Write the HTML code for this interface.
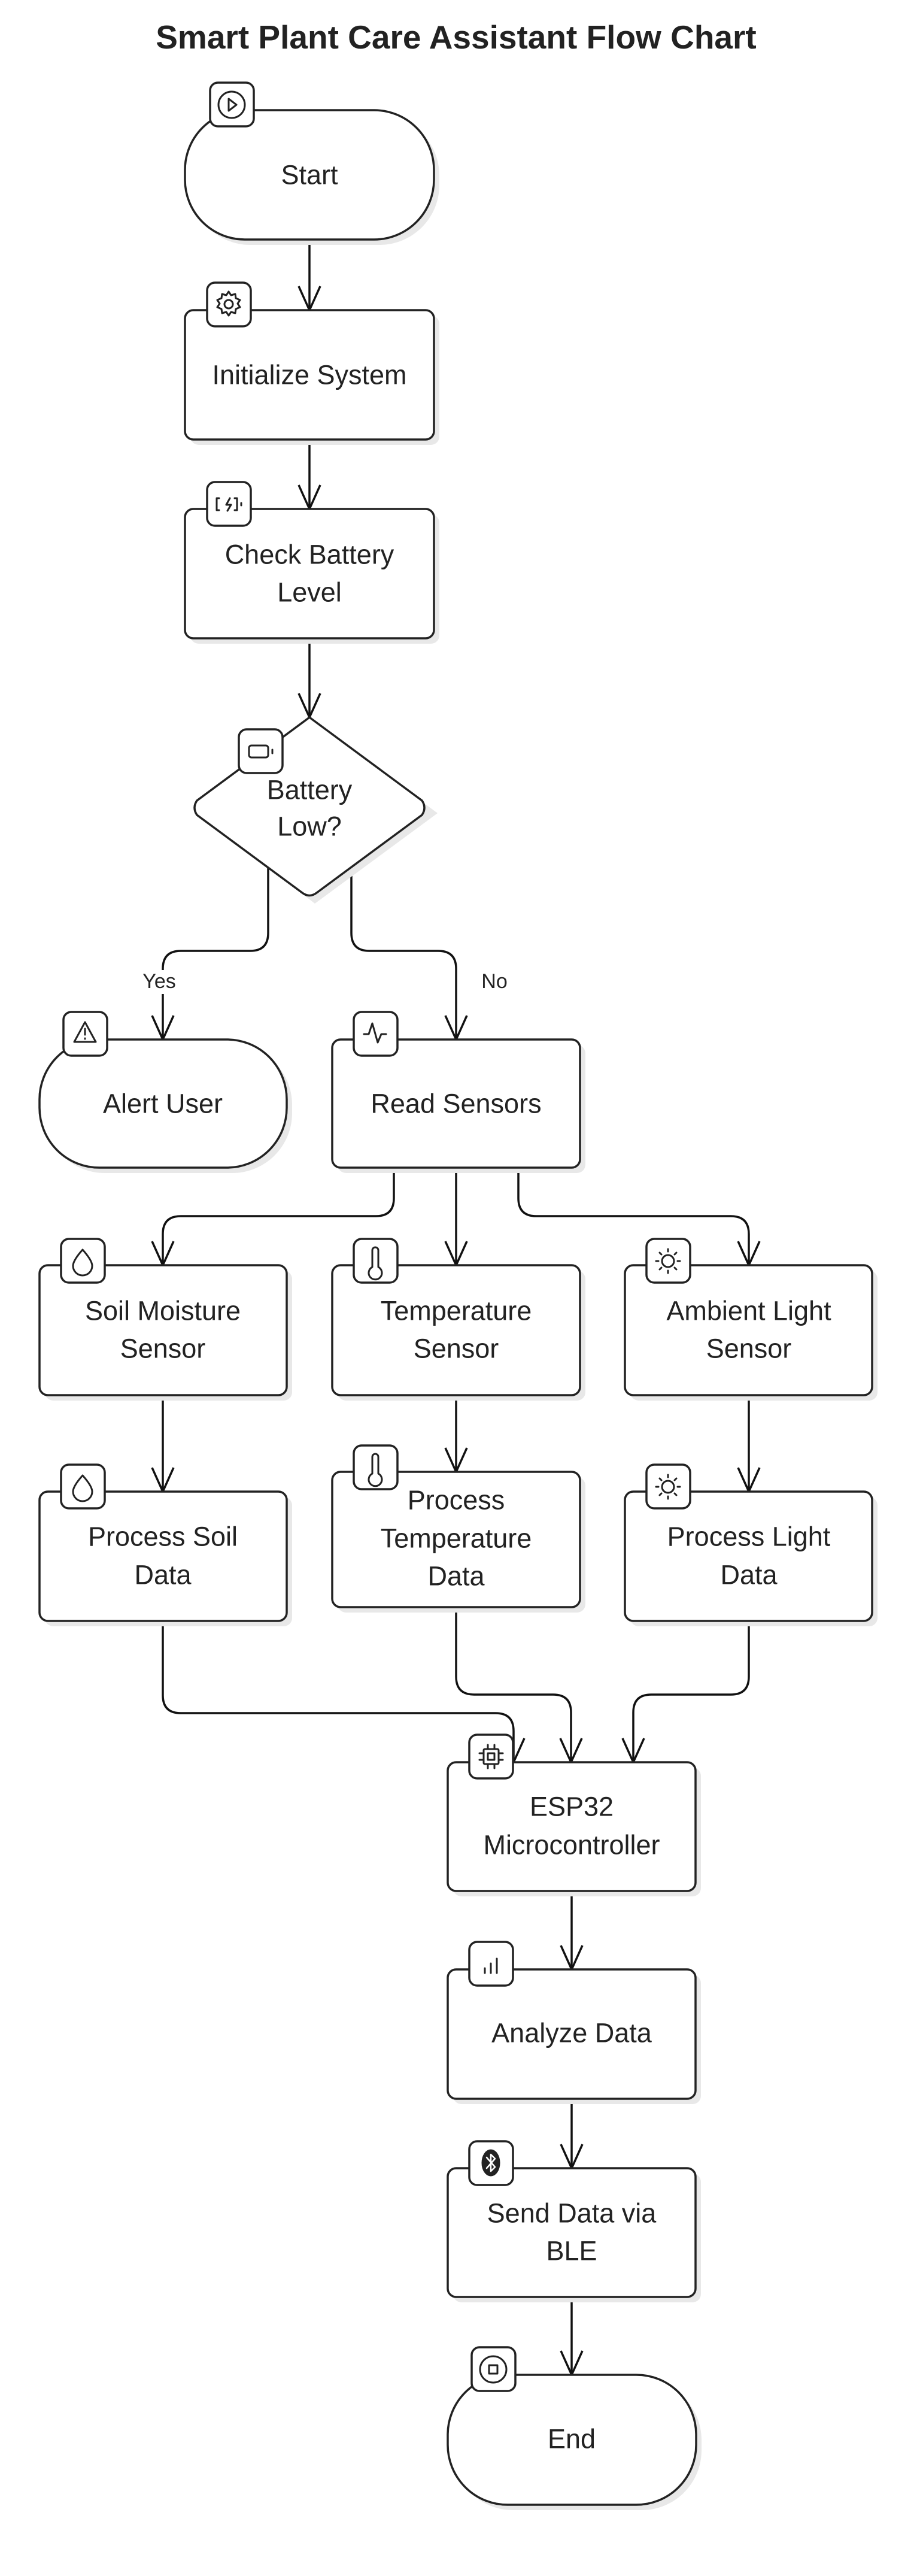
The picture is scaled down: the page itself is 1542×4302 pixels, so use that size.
<!DOCTYPE html>
<html><head><meta charset="utf-8"><style>
html,body{margin:0;padding:0;background:#fff;}
svg{display:block;}
text{font-family:"Liberation Sans",sans-serif;fill:#222;}
.n{font-size:45px;text-anchor:middle;dominant-baseline:central;}
.b{fill:#fff;stroke:#222;stroke-width:3.5;}
.s{fill:#e8e8e8;stroke:none;}
.l{fill:none;stroke:#111;stroke-width:3.5;}
.i{fill:none;stroke:#222;stroke-width:3;stroke-linecap:round;stroke-linejoin:round;}
</style></head><body>
<svg width="1542" height="4302" viewBox="0 0 1542 4302" xmlns="http://www.w3.org/2000/svg">
<text x="762" y="62" style="font-size:55px;font-weight:bold;text-anchor:middle;dominant-baseline:central;">Smart Plant Care Assistant Flow Chart</text>

<g class="l">
<path d="M517 400 V518"/>
<path d="M517 734 V850"/>
<path d="M517 1066 V1198"/>
<path d="M448 1447 V1558 Q448 1588 418 1588 H302 Q272 1588 272 1618 V1620 M272 1660 V1736"/>
<path d="M587 1447 V1558 Q587 1588 617 1588 H732 Q762 1588 762 1618 V1736"/>
<path d="M658 1950 V2001 Q658 2031 628 2031 H302 Q272 2031 272 2061 V2113"/>
<path d="M762 1950 V2113"/>
<path d="M866 1950 V2001 Q866 2031 896 2031 H1221 Q1251 2031 1251 2061 V2113"/>
<path d="M272 2330 V2491"/>
<path d="M762 2330 V2458"/>
<path d="M1251 2330 V2491"/>
<path d="M272 2707 V2831 Q272 2861 302 2861 H828 Q858 2861 858 2891 V2943"/>
<path d="M762 2684 V2800 Q762 2830 792 2830 H924 Q954 2830 954 2860 V2943"/>
<path d="M1251 2707 V2800 Q1251 2830 1221 2830 H1088 Q1058 2830 1058 2860 V2943"/>
<path d="M955 3158 V3289"/>
<path d="M955 3505 V3621"/>
<path d="M955 3836 V3966"/>
</g>
<g class="l">
<path d="M499 478 L517 518 L535 478"/>
<path d="M499 810 L517 850 L535 810"/>
<path d="M499 1158 L517 1198 L535 1158"/>
<path d="M254 1696 L272 1736 L290 1696"/>
<path d="M744 1696 L762 1736 L780 1696"/>
<path d="M254 2073 L272 2113 L290 2073"/>
<path d="M744 2073 L762 2113 L780 2073"/>
<path d="M1233 2073 L1251 2113 L1269 2073"/>
<path d="M254 2451 L272 2491 L290 2451"/>
<path d="M744 2418 L762 2458 L780 2418"/>
<path d="M1233 2451 L1251 2491 L1269 2451"/>
<path d="M840 2903 L858 2943 L876 2903"/>
<path d="M936 2903 L954 2943 L972 2903"/>
<path d="M1040 2903 L1058 2943 L1076 2903"/>
<path d="M937 3249 L955 3289 L973 3249"/>
<path d="M937 3581 L955 3621 L973 3581"/>
<path d="M937 3926 L955 3966 L973 3926"/>
</g>
<text x="266" y="1639" style="font-size:34px;text-anchor:middle;dominant-baseline:central;">Yes</text>
<text x="826" y="1639" style="font-size:34px;text-anchor:middle;dominant-baseline:central;">No</text>

<g class="s">
<rect x="318" y="193" width="416" height="216" rx="100"/>
<rect x="318" y="527" width="416" height="216" rx="14"/>
<rect x="318" y="859" width="416" height="216" rx="14"/>
<path d="M526 1207 L731 1358 L526 1509 L331 1358 Z"/>
<rect x="75" y="1745" width="413" height="214" rx="100"/>
<rect x="564" y="1745" width="414" height="214" rx="14"/>
<rect x="75" y="2122" width="413" height="217" rx="14"/>
<rect x="564" y="2122" width="414" height="217" rx="14"/>
<rect x="1053" y="2122" width="413" height="217" rx="14"/>
<rect x="75" y="2500" width="413" height="216" rx="14"/>
<rect x="564" y="2467" width="414" height="226" rx="14"/>
<rect x="1053" y="2500" width="413" height="216" rx="14"/>
<rect x="757" y="2952" width="414" height="215" rx="14"/>
<rect x="757" y="3298" width="414" height="216" rx="14"/>
<rect x="757" y="3630" width="414" height="215" rx="14"/>
<rect x="757" y="3975" width="415" height="217" rx="100"/>
</g>
<g class="b">
<rect x="309" y="184" width="416" height="216" rx="100"/>
<rect x="309" y="518" width="416" height="216" rx="14"/>
<rect x="309" y="850" width="416" height="216" rx="14"/>
<path d="M517 1198 L705 1337 Q713 1349 705 1361 L529 1491 Q517 1500 505 1491 L329 1361 Q321 1349 329 1337 Z"/>
<rect x="66" y="1736" width="413" height="214" rx="100"/>
<rect x="555" y="1736" width="414" height="214" rx="14"/>
<rect x="66" y="2113" width="413" height="217" rx="14"/>
<rect x="555" y="2113" width="414" height="217" rx="14"/>
<rect x="1044" y="2113" width="413" height="217" rx="14"/>
<rect x="66" y="2491" width="413" height="216" rx="14"/>
<rect x="555" y="2458" width="414" height="226" rx="14"/>
<rect x="1044" y="2491" width="413" height="216" rx="14"/>
<rect x="748" y="2943" width="414" height="215" rx="14"/>
<rect x="748" y="3289" width="414" height="216" rx="14"/>
<rect x="748" y="3621" width="414" height="215" rx="14"/>
<rect x="748" y="3966" width="415" height="217" rx="100"/>
</g>
<text class="n" x="517" y="292">Start</text>
<text class="n" x="517" y="626">Initialize System</text>
<text class="n" x="517" y="926">Check Battery</text>
<text class="n" x="517" y="989">Level</text>
<text class="n" x="517" y="1319">Battery</text>
<text class="n" x="517" y="1380">Low?</text>
<text class="n" x="272" y="1843">Alert User</text>
<text class="n" x="762" y="1843">Read Sensors</text>
<text class="n" x="272" y="2189">Soil Moisture</text>
<text class="n" x="272" y="2252">Sensor</text>
<text class="n" x="762" y="2189">Temperature</text>
<text class="n" x="762" y="2252">Sensor</text>
<text class="n" x="1251" y="2189">Ambient Light</text>
<text class="n" x="1251" y="2252">Sensor</text>
<text class="n" x="272" y="2566">Process Soil</text>
<text class="n" x="272" y="2630">Data</text>
<text class="n" x="762" y="2505">Process</text>
<text class="n" x="762" y="2569">Temperature</text>
<text class="n" x="762" y="2632">Data</text>
<text class="n" x="1251" y="2566">Process Light</text>
<text class="n" x="1251" y="2630">Data</text>
<text class="n" x="955" y="3017">ESP32</text>
<text class="n" x="955" y="3081">Microcontroller</text>
<text class="n" x="955" y="3395">Analyze Data</text>
<text class="n" x="955" y="3696">Send Data via</text>
<text class="n" x="955" y="3759">BLE</text>
<text class="n" x="955" y="4073">End</text>

<g class="b" style="stroke-width:3.5">
<rect x="351" y="138" width="73" height="73" rx="13"/>
<rect x="346" y="472" width="73" height="73" rx="13"/>
<rect x="346" y="805" width="73" height="73" rx="13"/>
<rect x="399" y="1218" width="73" height="73" rx="13"/>
<rect x="106" y="1690" width="73" height="73" rx="13"/>
<rect x="591" y="1690" width="73" height="73" rx="13"/>
<rect x="102" y="2069" width="73" height="73" rx="13"/>
<rect x="591" y="2069" width="73" height="73" rx="13"/>
<rect x="1080" y="2069" width="73" height="73" rx="13"/>
<rect x="102" y="2446" width="73" height="73" rx="13"/>
<rect x="591" y="2414" width="73" height="73" rx="13"/>
<rect x="1080" y="2446" width="73" height="73" rx="13"/>
<rect x="784" y="2897" width="73" height="73" rx="13"/>
<rect x="784" y="3243" width="73" height="73" rx="13"/>
<rect x="784" y="3576" width="73" height="73" rx="13"/>
<rect x="788" y="3920" width="73" height="73" rx="13"/>
</g>
<g class="i">
<circle cx="387" cy="175" r="22"/><path d="M382 165 L395 175 L382 185 Z"/>
<circle cx="382" cy="508" r="7"/><path d="M382 487 l4 6 7-2 1 7 7 3-4 6 4 6-7 3-1 7-7-2-4 6-4-6-7 2-1-7-7-3 4-6-4-6 7-3 1-7 7 2z"/>
<path d="M366 832 h-4 v20 h4 M392 832 h4 v20 h-4 M403 840 v4 M384 832 l-6 11 h8 l-6 10"/>
<rect x="416" y="1245" width="32" height="20" rx="4"/><path d="M455 1252 v6"/>
<path d="M142 1707 L124 1740 H160 Z M142 1718 v10 M142 1734 v1"/>
<path d="M608 1727 h8 l6-18 9 32 6-14 h8"/>
<path d="M138 2087 q-16 18 -16 27 a16 16 0 0 0 32 0 q0-9 -16-27z"/>
<path d="M622 2088 a5 5 0 0 1 10 0 v28 a11 11 0 1 1 -10 0 z"/>
<circle cx="1116" cy="2106" r="10"/><path d="M1116 2086 v4 M1116 2122 v4 M1096 2106 h4 M1132 2106 h4 M1102 2092 l3 3 M1127 2117 l3 3 M1102 2120 l3 -3 M1127 2095 l3 -3"/>
<path d="M138 2464 q-16 18 -16 27 a16 16 0 0 0 32 0 q0-9 -16-27z"/>
<path d="M622 2433 a5 5 0 0 1 10 0 v28 a11 11 0 1 1 -10 0 z"/>
<circle cx="1116" cy="2483" r="10"/><path d="M1116 2463 v4 M1116 2499 v4 M1096 2483 h4 M1132 2483 h4 M1102 2469 l3 3 M1127 2494 l3 3 M1102 2497 l3 -3 M1127 2472 l3 -3"/>
<rect x="808" y="2921" width="25" height="25" rx="2"/><rect x="815" y="2928" width="11" height="11"/><path d="M815 2914 v7 M826 2914 v7 M815 2946 v7 M826 2946 v7 M801 2928 h7 M801 2939 h7 M833 2928 h7 M833 2939 h7"/>
<path d="M810 3295 v-8 M820 3295 v-16 M830 3295 v-24"/>
<ellipse cx="820" cy="3612" rx="14" ry="21" style="fill:#222"/><path d="M813 3603 l14 16 -7 7 v-28 l7 7 -14 16" style="stroke:#fff;stroke-width:2.5"/>
<circle cx="824" cy="3957" r="22"/><rect x="817" y="3950" width="14" height="14"/>
</g>
</svg>
</body></html>
